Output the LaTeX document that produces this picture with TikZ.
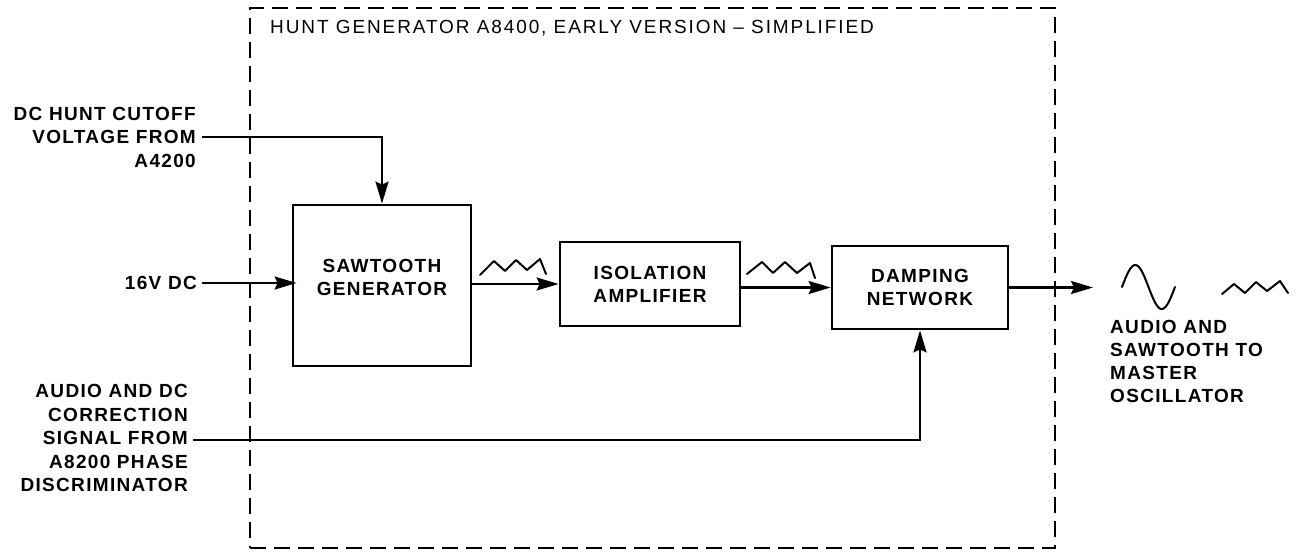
\documentclass[tikz,border=0pt]{standalone}
\usepackage{fontspec}
\setmainfont{Liberation Sans}
\newfontfamily\lblfont{Liberation Sans}[LetterSpace=7]
\newfontfamily\ttlfont{Liberation Sans}[LetterSpace=10]
\usetikzlibrary{arrows.meta}
\begin{document}
\begin{tikzpicture}[x=1pt,y=-1pt,
  lbl/.style={font=\lblfont\bfseries\fontsize{19}{23.5}\selectfont, inner sep=0pt, align=right, anchor=east},
  rlbl/.style={font=\lblfont\bfseries\fontsize{19}{23}\selectfont, inner sep=0pt, align=left, anchor=west},
  ttl/.style={font=\ttlfont\fontsize{19}{22}\selectfont, inner sep=0pt, anchor=west},
  blk/.style={draw, line width=2.8pt, inner sep=0pt, align=center, font=\lblfont\bfseries\fontsize{19}{23}\selectfont},
  blktxt/.style={inner sep=0pt, align=center, font=\lblfont\bfseries\fontsize{19}{23}\selectfont},
  arr/.style={line width=2.4pt, -{Stealth[length=22pt,width=13pt,inset=3pt]}},
  wave/.style={line width=2pt, line join=round, line cap=round},
  frame/.style={draw, line width=2.2pt, dash pattern=on 16pt off 8pt, inner sep=0pt}]
\useasboundingbox (0,0) rectangle (1301,555);

\node[frame, minimum width=805pt, minimum height=540pt] (frame) at (652.5,278) {};
\node[ttl] (title) at (270,28.5) {HUNT GENERATOR A8400, EARLY VERSION – SIMPLIFIED};

\node[blk, minimum width=178pt, minimum height=161pt] (saw) at (382,285.5) {};
\node[blktxt] (sawtxt) at (382,277.5) {SAWTOOTH\\GENERATOR};
\node[blk, minimum width=180pt, minimum height=84pt] (iso) at (650,284) {ISOLATION\\AMPLIFIER};
\node[blk, minimum width=176pt, minimum height=83pt] (damp) at (920,287.5) {DAMPING\\NETWORK};

\node[lbl] (dchunt) at (196,137) {DC HUNT CUTOFF\\VOLTAGE FROM\\A4200};
\node[lbl] (v16) at (197,283) {16V DC};
\node[lbl] (audio) at (188,438) {AUDIO AND DC\\CORRECTION\\SIGNAL FROM\\A8200 PHASE\\DISCRIMINATOR};
\node[rlbl] (outlbl) at (1110,361) {AUDIO AND\\SAWTOOTH TO\\MASTER\\OSCILLATOR};

\coordinate (dcin) at (202,137);
\coordinate (ain) at (193,440);
\coordinate (outend) at (1093,287.5);

\draw[arr] (dcin) -| (saw.north);
\draw[arr] ([xshift=5pt]v16.east) -- ([xshift=5pt]v16.east -| saw.west);
\draw[arr] (iso.west -| saw.east) -- (iso.west);
\draw[arr] (damp.west -| iso.east) -- (damp.west);
\draw[arr] (damp.east) -- (outend);
\draw[arr] (ain) -| (damp.south);

\draw[wave] (480,275) -- (494,261) -- (505,271) -- (516,260) -- (527,270) -- (540,259) -- (546,274);
\draw[wave] (747,274) -- (762,262) -- (773,273) -- (785,262) -- (797,273) -- (810,263) -- (815,278);
\draw[wave] (1222,294) -- (1234,284) -- (1245,293) -- (1256,282) -- (1267,291) -- (1280,281) -- (1288,293);
\draw[wave] plot[domain=0:360,samples=61] ({1122+53*(\x/360)},{287-22*sin(\x)});
\end{tikzpicture}
\end{document}
